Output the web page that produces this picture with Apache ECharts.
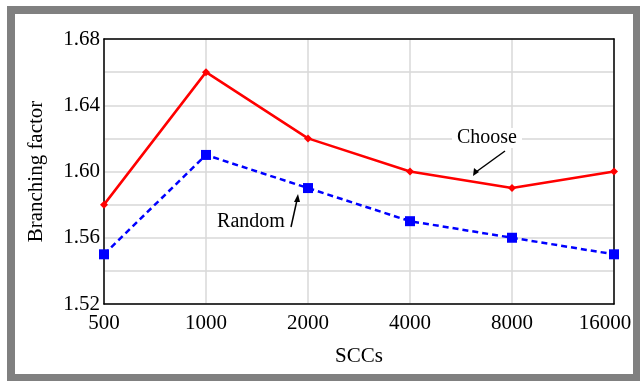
<!DOCTYPE html>
<html><head><meta charset="utf-8">
<script src="https://cdn.jsdelivr.net/npm/echarts@6/dist/echarts.min.js"></script>
<style>html,body{margin:0;padding:0;background:#fff}#c{width:640px;height:381px}</style>
</head><body><div id="c"></div>
<script>
var categories = ['500', '1000', '2000', '4000', '8000', '16000'];
var chooseValues = [1.58, 1.66, 1.62, 1.60, 1.59, 1.60];
var randomValues = [1.55, 1.61, 1.59, 1.57, 1.56, 1.55];
var yMin = 1.52, yMax = 1.68, yStep = 0.04;

var FONT = '"Liberation Serif", "DejaVu Serif", serif';
var chart = echarts.init(document.getElementById('c'), null, {renderer: 'canvas'});
chart.setOption({
  animation: false,
  backgroundColor: '#fff',
  grid: {left: 104, right: 26, top: 39, bottom: 77},
  xAxis: [{
    type: 'category', data: categories, boundaryGap: false,
    name: 'SCCs', nameLocation: 'middle', nameGap: 42,
    nameTextStyle: {fontFamily: FONT, fontSize: 21, color: '#000'},
    axisLine: {lineStyle: {color: '#000', width: 1.5}},
    axisTick: {show: false},
    axisLabel: {fontFamily: FONT, fontSize: 21, color: '#000', margin: 9, interval: 0,
      formatter: function (v, i) { return i === categories.length - 1 ? '{l|' + v + '}' : v; },
      rich: {l: {fontFamily: FONT, fontSize: 21, color: '#000', padding: [0, 18, 0, 0]}}
    },
    splitLine: {show: true, interval: 0, lineStyle: {color: '#d8d8d8', width: 1.5}}
  }, {
    type: 'category', data: categories, boundaryGap: false, position: 'top',
    axisLine: {show: true, lineStyle: {color: '#000', width: 1.5}},
    axisTick: {show: false}, axisLabel: {show: false}, splitLine: {show: false}
  }],
  yAxis: [{
    type: 'value', min: yMin, max: yMax, interval: yStep,
    name: 'Branching factor', nameLocation: 'middle', nameGap: 57,
    nameTextStyle: {fontFamily: FONT, fontSize: 21, color: '#000'},
    axisLine: {show: true, lineStyle: {color: '#000', width: 1.5}},
    axisTick: {show: false},
    axisLabel: {fontFamily: FONT, fontSize: 21, color: '#000', margin: 4,
      formatter: function (v) { return v.toFixed(2); }},
    splitLine: {show: true, lineStyle: {color: '#d8d8d8', width: 1.5}},
    minorTick: {show: false, splitNumber: 2},
    minorSplitLine: {show: true, lineStyle: {color: '#d8d8d8', width: 1.5}}
  }, {
    type: 'value', min: yMin, max: yMax, interval: yStep, position: 'right',
    axisLine: {show: true, lineStyle: {color: '#000', width: 1.5}},
    axisTick: {show: false}, axisLabel: {show: false}, splitLine: {show: false}
  }],
  series: [
    {name: 'Choose', type: 'line', data: chooseValues, symbol: 'diamond', symbolSize: 8,
      lineStyle: {color: '#ff0000', width: 2.5}, itemStyle: {color: '#ff0000'}, z: 3},
    {name: 'Random', type: 'line', data: randomValues, symbol: 'rect', symbolSize: 10,
      lineStyle: {color: '#0000ff', width: 2.5, type: [6, 4]}, itemStyle: {color: '#0000ff'}, z: 4}
  ],
  graphic: [
    {type: 'rect', shape: {x: 11, y: 10, width: 626, height: 368}, style: {fill: 'none', stroke: '#808080', lineWidth: 8}, z: 100},
    {type: 'text', x: 487, y: 138, style: {text: 'Choose', font: '20px ' + FONT, fill: '#000', align: 'center', verticalAlign: 'middle',
      backgroundColor: '#fff', padding: [0, 5]}, z: 50},
    {type: 'line', shape: {x1: 505, y1: 151, x2: 476, y2: 172}, style: {stroke: '#000', lineWidth: 1.5}, z: 50},
    {type: 'polygon', shape: {points: [[473, 176], [474, 168], [479, 172]]}, style: {fill: '#000'}, z: 50},
    {type: 'text', x: 251, y: 222, style: {text: 'Random', font: '20px ' + FONT, fill: '#000', align: 'center', verticalAlign: 'middle'}, z: 50},
    {type: 'line', shape: {x1: 291, y1: 227, x2: 297, y2: 200}, style: {stroke: '#000', lineWidth: 1.5}, z: 50},
    {type: 'polygon', shape: {points: [[298, 194], [294, 202], [300, 202]]}, style: {fill: '#000'}, z: 50}
  ]
});
</script></body></html>
